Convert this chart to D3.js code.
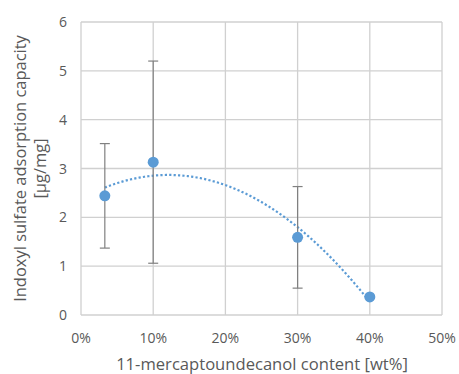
<!DOCTYPE html>
<html>
<head>
<meta charset="utf-8">
<script src="https://cdn.jsdelivr.net/npm/d3@7"></script>
<style>
  body { margin: 0; background: #fff; }
  text { font-family: "Open Sans", "Noto Sans", sans-serif; fill: #595959; }
</style>
</head>
<body>
<svg id="chart" width="459" height="374"></svg>
<script>
// MUD content (wt%) and adsorption capacity
const content = [3.3, 10, 30, 40];
const capacity = [2.44, 3.13, 1.59, 0.37];
const stdev = [1.07, 2.07, 1.04, 0];
const xTicks = [0, 10, 20, 30, 40, 50];
const yTicks = [0, 1, 2, 3, 4, 5, 6];

const svg = d3.select('#chart');
const plotL = 81, plotR = 442, plotT = 22, plotB = 315;

const x = d3.scaleLinear().domain([0, 50]).range([plotL, plotR]);
const y = d3.scaleLinear().domain([0, 6]).range([plotB, plotT]);

// gridlines
svg.append('g').selectAll('line').data(yTicks).join('line')
  .attr('x1', plotL).attr('x2', plotR)
  .attr('y1', (d) => y(d)).attr('y2', (d) => y(d))
  .attr('stroke', '#d0d0d0').attr('stroke-width', 1.3);
svg.append('g').selectAll('line').data(xTicks).join('line')
  .attr('x1', (d) => x(d)).attr('x2', (d) => x(d))
  .attr('y1', plotT).attr('y2', plotB)
  .attr('stroke', '#d0d0d0').attr('stroke-width', 1.3);

// tick labels
svg.append('g').selectAll('text').data(yTicks).join('text')
  .attr('x', plotL - 14).attr('y', (d) => y(d) + 5)
  .attr('text-anchor', 'end').style('font-size', '14px')
  .text((d) => d);
svg.append('g').selectAll('text').data(xTicks).join('text')
  .attr('x', (d) => x(d)).attr('y', 343)
  .attr('text-anchor', 'middle').style('font-size', '14px')
  .text((d) => d + '%');

// quadratic trendline (least squares fit, like Excel's polynomial trendline)
const fitQuad = (xs, ys) => {
  const s = (p) => d3.sum(xs, (v) => v ** p);
  const t = (p) => d3.sum(xs, (v, i) => v ** p * ys[i]);
  const A = [[s(0), s(1), s(2), t(0)], [s(1), s(2), s(3), t(1)], [s(2), s(3), s(4), t(2)]];
  for (let i = 0; i < 3; i++) {
    for (let k = i + 1; k < 3; k++) {
      const f = A[k][i] / A[i][i];
      for (let j = i; j < 4; j++) A[k][j] -= f * A[i][j];
    }
  }
  const c = [0, 0, 0];
  for (let i = 2; i >= 0; i--) {
    let v = A[i][3];
    for (let j = i + 1; j < 3; j++) v -= A[i][j] * c[j];
    c[i] = v / A[i][i];
  }
  return (v) => c[0] + c[1] * v + c[2] * v * v;
};
const trend = fitQuad(content, capacity);
const trendX = d3.range(content[0], content[content.length - 1] + 0.01, 0.25);
svg.append('path')
  .attr('d', d3.line().x((d) => x(d)).y((d) => y(trend(d)))(trendX))
  .attr('fill', 'none').attr('stroke', '#5b9bd5').attr('stroke-width', 2.2)
  .attr('stroke-dasharray', '2.2,2.2');

// error bars
const eb = svg.append('g').attr('stroke', '#808080').attr('stroke-width', 1.2);
content.forEach((c, i) => {
  if (!stdev[i]) return;
  const hi = y(capacity[i] + stdev[i]), lo = y(capacity[i] - stdev[i]);
  eb.append('line').attr('x1', x(c)).attr('x2', x(c)).attr('y1', hi).attr('y2', lo);
  eb.append('line').attr('x1', x(c) - 5).attr('x2', x(c) + 5).attr('y1', hi).attr('y2', hi);
  eb.append('line').attr('x1', x(c) - 5).attr('x2', x(c) + 5).attr('y1', lo).attr('y2', lo);
});

// markers
svg.append('g').selectAll('circle').data(content).join('circle')
  .attr('cx', (d) => x(d)).attr('cy', (d, i) => y(capacity[i]))
  .attr('r', 5.5).attr('fill', '#5b9bd5');

// axis titles
const xt = svg.append('text')
  .attr('x', (plotL + plotR) / 2 + 0.5).attr('y', 370)
  .attr('text-anchor', 'middle').style('font-size', '15px')
  .text('11-mercaptoundecanol content [wt%]');
xt.style('font-size', (15 * 292 / xt.node().getComputedTextLength()) + 'px');

const yt = svg.append('text')
  .attr('transform', `translate(26,${(plotT + plotB) / 2}) rotate(-90)`)
  .attr('text-anchor', 'middle').style('font-size', '15px');
yt.append('tspan').attr('x', 0).attr('y', 0).text('Indoxyl sulfate adsorption capacity');
yt.append('tspan').attr('x', 0).attr('y', 20).text('[μg/mg]');
const yw = yt.select('tspan').node().getComputedTextLength();
yt.style('font-size', (15 * 267 / yw) + 'px');
</script>
</body>
</html>
